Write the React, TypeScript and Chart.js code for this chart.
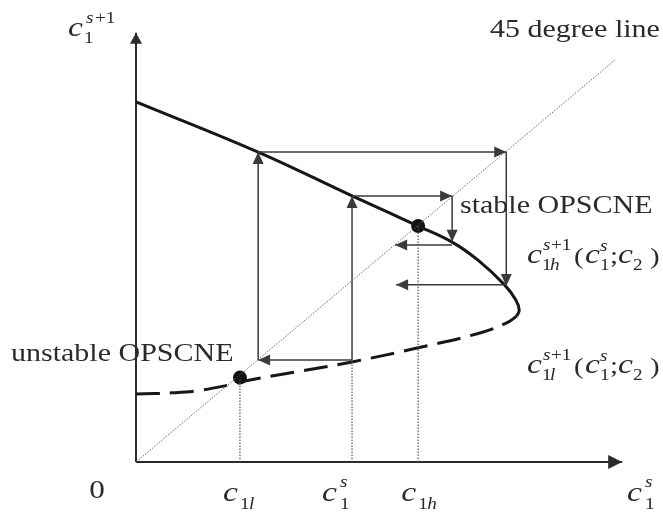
import React, { useEffect, useRef } from "react";
import { Chart, registerables } from "chart.js";

Chart.register(...registerables);

type P = { x: number; y: number };

// Upper (stable) branch of the best-response map, drawn solid
const stableBranch: P[] = [
  { x: 0, y: 89.6 },
  { x: 25.5, y: 77.1 },
  { x: 45.1, y: 66.2 },
  { x: 58.9, y: 58.7 },
  { x: 66.0, y: 54.7 },
  { x: 71.4, y: 50.2 },
  { x: 77.0, y: 44.0 },
  { x: 79.3, y: 40.3 },
  { x: 80.0, y: 37.8 },
  { x: 79.5, y: 36.3 },
];

// Lower (unstable) branch, drawn dashed
const unstableBranch: P[] = [
  { x: 0, y: 16.9 },
  { x: 7.5, y: 17.2 },
  { x: 12.7, y: 17.7 },
  { x: 19.6, y: 19.2 },
  { x: 23.8, y: 20.4 },
  { x: 34.2, y: 22.6 },
  { x: 45.1, y: 24.9 },
  { x: 58.9, y: 28.4 },
  { x: 71.8, y: 32.1 },
  { x: 77.7, y: 34.8 },
  { x: 79.5, y: 36.3 },
];

// Equilibria on the 45 degree line: unstable (low) and stable (high)
const equilibria: P[] = [
  { x: 21.7, y: 21.0 },
  { x: 58.9, y: 58.7 },
];

// Cobweb adjustment paths, each segment ends in an arrow head
const cobwebSegments: [P, P][] = [
  [{ x: 45.1, y: 25.4 }, { x: 25.5, y: 25.4 }],
  [{ x: 25.5, y: 25.4 }, { x: 25.5, y: 77.1 }],
  [{ x: 25.5, y: 77.1 }, { x: 77.3, y: 77.1 }],
  [{ x: 77.3, y: 77.1 }, { x: 77.3, y: 43.8 }],
  [{ x: 77.3, y: 44.1 }, { x: 54.3, y: 44.1 }],
  [{ x: 45.1, y: 25.4 }, { x: 45.1, y: 66.2 }],
  [{ x: 45.1, y: 66.2 }, { x: 66.0, y: 66.2 }],
  [{ x: 66.0, y: 66.2 }, { x: 66.0, y: 54.8 }],
  [{ x: 66.0, y: 54.0 }, { x: 54.1, y: 54.0 }],
];

// Dotted drop lines to the horizontal axis
const dropLines: [P, P][] = [
  [{ x: 21.7, y: 0 }, { x: 21.7, y: 21.0 }],
  [{ x: 58.9, y: 0 }, { x: 58.9, y: 58.7 }],
  [{ x: 45.1, y: 0 }, { x: 45.1, y: 25.4 }],
];

const diagonal: P[] = [
  { x: 0, y: 0 },
  { x: 100, y: 100 },
];

const xAxisLine: P[] = [
  { x: 0, y: 0 },
  { x: 101.5, y: 0 },
];
const yAxisLine: P[] = [
  { x: 0, y: 0 },
  { x: 0, y: 106.8 },
];

// Horizontal axis tick positions and their labels
const tickValues = [21.7, 45.1, 58.9];
const tickSubs = ["l", "s", "h"];

const SERIF = '"Liberation Serif", "Times New Roman", "DejaVu Serif", serif';
const TEXT = "#2b2b2b";
const STRETCH = 1.2;

type Tok = [string, number, number, number, boolean];

function drawTok(ctx: CanvasRenderingContext2D, x: number, y: number, toks: Tok[]) {
  for (const [t, dx, dy, size, italic] of toks) {
    ctx.save();
    ctx.font = `${italic ? "italic " : ""}${size}px ${SERIF}`;
    ctx.fillStyle = TEXT;
    ctx.textBaseline = "alphabetic";
    ctx.textAlign = "left";
    ctx.translate(x + dx, y + dy);
    ctx.scale(STRETCH, 1);
    ctx.fillText(t, 0, 0);
    ctx.restore();
  }
}

function drawPlain(ctx: CanvasRenderingContext2D, t: string, x: number, y: number, size: number) {
  drawTok(ctx, x, y, [[t, 0, 0, size, false]]);
}

const C = 28;
const S = 16;

function funcLabel(branch: string): Tok[] {
  return [
    ["c", 0, 0, C, true],
    ["1", 15, 7, S, false],
    [branch, 23, 7, S, true],
    ["s", 16, -13, S, true],
    ["+1", 24, -13, S, false],
    ["(", 47, 1, 24, false],
    ["c", 58, 0, C, true],
    ["s", 73, -12, S, true],
    ["1", 73, 7, S, false],
    [";", 83, 0, 24, false],
    ["c", 91, 0, C, true],
    ["2", 106, 7, S, false],
    [")", 123, 1, 24, false],
  ];
}

const overlay = {
  id: "overlay",
  afterDatasetsDraw(chart: any) {
    const ctx: CanvasRenderingContext2D = chart.ctx;
    chart.data.datasets.forEach((ds: any, i: number) => {
      const head = ds.arrowHead;
      if (!head) return;
      const pts = chart.getDatasetMeta(i).data;
      const a = pts[pts.length - 2];
      const b = pts[pts.length - 1];
      const ang = Math.atan2(b.y - a.y, b.x - a.x);
      ctx.save();
      ctx.translate(b.x, b.y);
      ctx.rotate(ang);
      ctx.beginPath();
      ctx.moveTo(0, 0);
      ctx.lineTo(-head.len, -head.half);
      ctx.lineTo(-head.len, head.half);
      ctx.closePath();
      ctx.fillStyle = ds.borderColor;
      ctx.fill();
      ctx.restore();
    });
  },
  afterDraw(chart: any) {
    const ctx: CanvasRenderingContext2D = chart.ctx;
    const xs = chart.scales.x;
    const ys = chart.scales.y;
    const base = ys.getPixelForValue(0) + 39;

    // vertical axis name
    drawTok(ctx, 68, 36, [
      ["c", 0, 0, C, true],
      ["1", 16, 7, S, false],
      ["s", 18, -13, S, true],
      ["+1", 27, -13, S, false],
    ]);

    drawPlain(ctx, "45 degree line", 490, 37, 25);
    drawPlain(ctx, "stable OPSCNE", 460, 213, 25);
    drawPlain(ctx, "unstable OPSCNE", 11, 361, 25);

    drawTok(ctx, 527, 263, funcLabel("h"));
    drawTok(ctx, 527, 373, funcLabel("l"));

    // origin
    ctx.save();
    ctx.font = `26px ${SERIF}`;
    ctx.fillStyle = TEXT;
    ctx.textAlign = "center";
    ctx.translate(xs.getPixelForValue(0) - 39, base - 3);
    ctx.scale(STRETCH, 1);
    ctx.fillText("0", 0, 0);
    ctx.restore();

    tickValues.forEach((v, k) => {
      const px = xs.getPixelForValue(v);
      const sub = tickSubs[k];
      if (sub === "s") {
        drawTok(ctx, px - 30, base, [
          ["c", 0, 0, C, true],
          ["s", 18, -14, S, true],
          ["1", 18, 8, S, false],
        ]);
      } else {
        drawTok(ctx, px - 17, base, [
          ["c", 0, 0, C, true],
          ["1", 17, 8, S, false],
          [sub, 26, 8, S, true],
        ]);
      }
    });

    // horizontal axis name
    drawTok(ctx, 627, base, [
      ["c", 0, 0, C, true],
      ["s", 18, -14, S, true],
      ["1", 18, 8, S, false],
    ]);
  },
};

function line(data: P[], extra: any = {}) {
  return {
    data,
    showLine: true,
    pointRadius: 0,
    pointHoverRadius: 0,
    borderWidth: 1.5,
    borderColor: "#3a3a3a",
    tension: 0,
    fill: false,
    clip: false,
    borderCapStyle: "butt",
    ...extra,
  };
}

export default function App() {
  const ref = useRef<HTMLCanvasElement | null>(null);

  useEffect(() => {
    if (!ref.current) return;
    const datasets: any[] = [
      line(diagonal, { borderColor: "#666", borderWidth: 1, borderDash: [1.5, 1.5] }),
      ...dropLines.map((seg) =>
        line(seg, { borderColor: "#555", borderWidth: 1.2, borderDash: [1.5, 1.5] })
      ),
      ...cobwebSegments.map((seg) =>
        line(seg, { arrowHead: { len: 12, half: 5.5 } })
      ),
      line(stableBranch, { borderColor: "#161616", borderWidth: 3, tension: 0.4 }),
      line(unstableBranch, {
        borderColor: "#161616",
        borderWidth: 3,
        tension: 0.4,
        borderDash: [24, 10],
      }),
      line(xAxisLine, { borderColor: "#2a2a2a", borderWidth: 2, arrowHead: { len: 14, half: 7 } }),
      line(yAxisLine, { borderColor: "#2a2a2a", borderWidth: 2, arrowHead: { len: 11, half: 6 } }),
      {
        data: equilibria,
        showLine: false,
        pointRadius: 7,
        pointHoverRadius: 7,
        pointBackgroundColor: "#111",
        pointBorderWidth: 0,
        clip: false,
      },
    ];

    const chart = new Chart(ref.current, {
      type: "scatter",
      data: { datasets },
      options: {
        animation: false,
        responsive: false,
        maintainAspectRatio: false,
        events: [],
        layout: { padding: { left: 136, right: 48, top: 60, bottom: 50 } },
        scales: {
          x: { type: "linear", min: 0, max: 100, display: false },
          y: { type: "linear", min: 0, max: 100, display: false },
        },
        plugins: {
          legend: { display: false },
          tooltip: { enabled: false },
        },
      },
      plugins: [overlay],
    } as any);

    return () => chart.destroy();
  }, []);

  return (
    <div style={{ position: "absolute", left: 0, top: 0, width: 663, height: 512, background: "#fff" }}>
      <canvas ref={ref} width={663} height={512} style={{ display: "block" }} />
    </div>
  );
}
